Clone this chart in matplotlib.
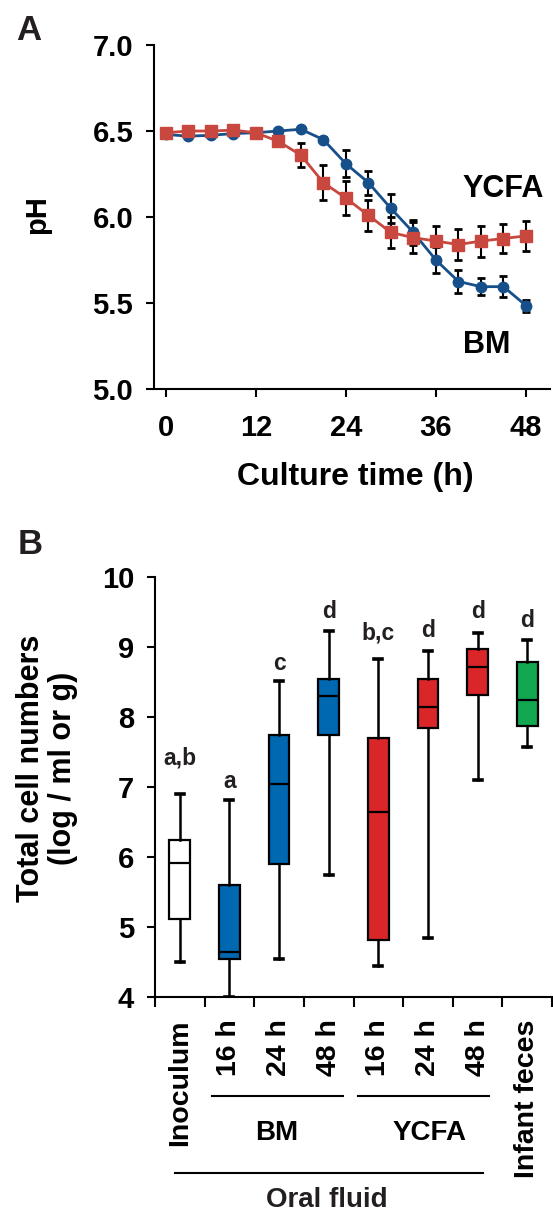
import matplotlib
matplotlib.use("Agg")
import matplotlib.pyplot as plt

plt.rcParams['font.family'] = ['Liberation Sans', 'DejaVu Sans']
plt.rcParams['font.weight'] = 'bold'

# ---- panel A data ----
time_h = [0, 3, 6, 9, 12, 15, 18, 21, 24, 27, 30, 33, 36, 39, 42, 45, 48]
bm_ph = [6.48, 6.47, 6.475, 6.485, 6.49, 6.50, 6.51, 6.45, 6.31, 6.20, 6.05,
         5.91, 5.75, 5.625, 5.595, 5.595, 5.485]
bm_err = [0.01, 0.01, 0.01, 0.01, 0.01, 0.01, 0.01, 0.015, 0.08, 0.07, 0.085,
          0.075, 0.075, 0.065, 0.05, 0.06, 0.035]
ycfa_ph = [6.49, 6.50, 6.50, 6.505, 6.49, 6.44, 6.36, 6.20, 6.11, 6.01, 5.91,
           5.88, 5.86, 5.84, 5.86, 5.875, 5.89]
ycfa_err = [0.01, 0.01, 0.01, 0.01, 0.01, 0.03, 0.07, 0.10, 0.10, 0.09, 0.09,
            0.09, 0.09, 0.09, 0.09, 0.085, 0.085]

# ---- panel B data ----
groups = ['Inoculum', '16 h', '24 h', '48 h', '16 h', '24 h', '48 h', 'Infant feces']
whis_lo = [4.50, 4.00, 4.54, 5.74, 4.44, 4.85, 7.10, 7.57]
q1 = [5.11, 4.55, 5.90, 7.74, 4.81, 7.85, 8.31, 7.87]
med = [5.92, 4.65, 7.04, 8.30, 6.65, 8.15, 8.72, 8.24]
q3 = [6.25, 5.60, 7.74, 8.55, 7.70, 8.54, 8.97, 8.78]
whis_hi = [6.90, 6.81, 8.52, 9.23, 8.83, 8.95, 9.20, 9.10]
letters = ['a,b', 'a', 'c', 'd', 'b,c', 'd', 'd', 'd']
box_colors = ['white', '#0067b1', '#0067b1', '#0067b1',
              '#da2628', '#da2628', '#da2628', '#11a84f']

W, H = 553, 1211
fig = plt.figure(figsize=(W / 100, H / 100), dpi=100)
dark = '#231f20'

# ================= A =================
axA = fig.add_axes([154 / W, 1 - 389 / H, 396 / W, 344 / H])
axA.errorbar(time_h, bm_ph, yerr=bm_err, fmt='none', ecolor='black',
             elinewidth=1.5, capsize=3, capthick=2, zorder=2)
axA.errorbar(time_h, ycfa_ph, yerr=ycfa_err, fmt='none', ecolor='black',
             elinewidth=1.5, capsize=3, capthick=2, zorder=2)
axA.plot(time_h, bm_ph, '-o', color='#164f8a', lw=2, ms=7.5, zorder=3)
axA.plot(time_h, ycfa_ph, '-s', color='#c8473f', lw=2, ms=8.5, zorder=4)
axA.set_xlim(-1.56, 51.2)
axA.set_ylim(5.0, 7.0)
axA.set_xticks([0, 12, 24, 36, 48])
axA.set_yticks([5.0, 5.5, 6.0, 6.5, 7.0])
axA.set_yticklabels(['5.0', '5.5', '6.0', '6.5', '7.0'])
for s in ['top', 'right']:
    axA.spines[s].set_visible(False)
for s in ['left', 'bottom']:
    axA.spines[s].set_linewidth(1.5)
axA.tick_params(axis='both', direction='out', length=6, width=1.5,
                labelsize=21, pad=9)
axA.tick_params(axis='x', pad=12)
axA.text(39.6, 6.16, 'YCFA', ha='left', va='center', fontsize=22)
axA.text(39.6, 5.255, 'BM', ha='left', va='center', fontsize=22)
fig.text(355 / W, 1 - 477 / H, 'Culture time (h)', ha='center', va='center',
         fontsize=23)
fig.text(37 / W, 1 - 215 / H, 'pH', ha='center', va='center', rotation=90,
         fontsize=21)
fig.text(29 / W, 1 - 30 / H, 'A', ha='center', va='center', fontsize=25,
         color=dark)

# ================= B =================
axB = fig.add_axes([155 / W, 1 - 997 / H, 397 / W, 420 / H])
stats = []
for i in range(len(groups)):
    stats.append({'whislo': whis_lo[i], 'q1': q1[i], 'med': med[i],
                  'q3': q3[i], 'whishi': whis_hi[i], 'fliers': []})
bp = axB.bxp(stats, positions=list(range(len(groups))), widths=0.42,
             capwidths=0.16, patch_artist=True, showfliers=False,
             boxprops=dict(linewidth=1.6, edgecolor='black'),
             whiskerprops=dict(linewidth=1.8, color='black'),
             capprops=dict(linewidth=2.6, color='black'),
             medianprops=dict(linewidth=1.6, color='black'))
for patch, c in zip(bp['boxes'], box_colors):
    patch.set_facecolor(c)

letter_gap = [21.6, 8.6, 7.9, 9.4, 13.7, 10, 10.8, 9.4]
for i, lab in enumerate(letters):
    axB.annotate(lab, (i, whis_hi[i]), xytext=(0, letter_gap[i]),
                 textcoords='offset points', ha='center', va='baseline',
                 fontsize=16.5, color=dark)

axB.set_xlim(-0.5, 7.5)
axB.set_ylim(4, 10)
axB.set_yticks([4, 5, 6, 7, 8, 9, 10])
axB.set_xticks(list(range(len(groups))))
axB.set_xticklabels(groups, rotation=90, va='top')
axB.set_xticks([k - 0.5 for k in range(len(groups) + 1)], minor=True)
for s in ['top', 'right']:
    axB.spines[s].set_visible(False)
for s in ['left', 'bottom']:
    axB.spines[s].set_linewidth(1.5)
axB.tick_params(axis='y', direction='out', length=6, width=1.5,
                labelsize=21, pad=9)
axB.tick_params(axis='x', which='major', length=0, labelsize=20.5, pad=16)
axB.tick_params(axis='x', which='minor', direction='out', length=7, width=1.5)

xt = axB.get_xaxis_transform()
axB.plot([0.65, 3.28], [-0.2357, -0.2357], color='black', lw=1.5,
         transform=xt, clip_on=False)
axB.plot([3.60, 6.23], [-0.2357, -0.2357], color='black', lw=1.5,
         transform=xt, clip_on=False)
axB.plot([-0.10, 6.11], [-0.419, -0.419], color='black', lw=1.5,
         transform=xt, clip_on=False)
axB.text(1.96, -0.324, 'BM', transform=xt, ha='center', va='center',
         fontsize=20)
axB.text(5.04, -0.324, 'YCFA', transform=xt, ha='center', va='center',
         fontsize=20)
axB.text(2.97, -0.483, 'Oral fluid', transform=xt, ha='center', va='center',
         fontsize=20, color=dark)

fig.text(47 / W, 1 - 768 / H, 'Total cell numbers\n(log / ml or g)',
         ha='center', va='center', rotation=90, fontsize=22,
         linespacing=1.1, multialignment='center')
fig.text(30 / W, 1 - 545 / H, 'B', ha='center', va='center', fontsize=25,
         color=dark)

fig.savefig('out.png', dpi=100)
